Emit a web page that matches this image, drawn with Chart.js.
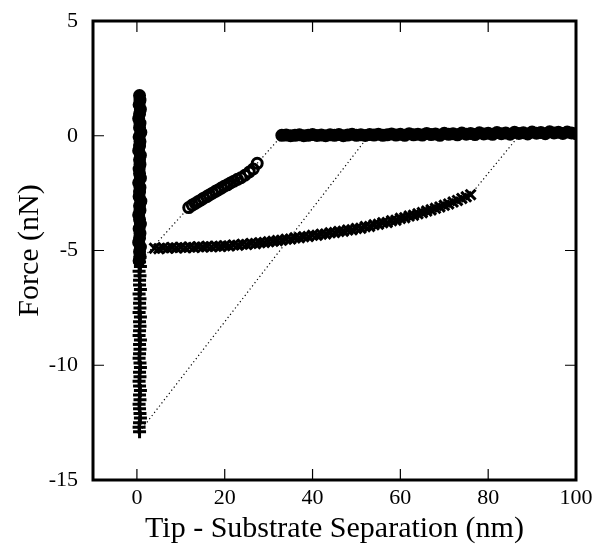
<!DOCTYPE html>
<html>
<head>
<meta charset="utf-8">
<script src="https://cdn.jsdelivr.net/npm/chart.js@4.4.1/dist/chart.umd.min.js"></script>
<style>
  html, body { margin: 0; padding: 0; background: #fff; }
  canvas { display: block; }
</style>
</head>
<body>
<canvas id="force-chart" width="594" height="548"></canvas>
<script>
// axis ticks
const xTicks = [0, 20, 40, 60, 80, 100];
const yTicks = [-15, -10, -5, 0, 5];

// approach, tip far from surface (circles at zero force)
const approachX = [33, 34, 35, 36, 37, 38, 39, 40, 41, 42, 43, 44, 45, 46, 47, 48, 49, 50,
    51, 52, 53, 54, 55, 56, 57, 58, 59, 60, 61, 62, 63, 64, 65, 66, 67, 68, 69, 70,
    71, 72, 73, 74, 75, 76, 77, 78, 79, 80, 81, 82, 83, 84, 85, 86, 87, 88, 89, 90,
    91, 92, 93, 94, 95, 96, 97, 98, 99, 100];
const approachY = [0.02, 0.03, 0.0, 0.02, 0.04, 0.0, 0.02, 0.05, 0.01, 0.03, 0.0, 0.04, 0.02, 0.05, 0.0, 0.03, 0.06, 0.02,
    0.04, 0.01, 0.05, 0.03, 0.07, 0.02, 0.04, 0.08, 0.03, 0.06, 0.02, 0.09, 0.04, 0.07, 0.03, 0.1, 0.05, 0.08, 0.02, 0.11,
    0.06, 0.09, 0.04, 0.12, 0.07, 0.1, 0.05, 0.13, 0.08, 0.11, 0.06, 0.14, 0.09, 0.12, 0.07, 0.15, 0.1, 0.13, 0.08, 0.16,
    0.11, 0.14, 0.09, 0.17, 0.12, 0.15, 0.1, 0.16, 0.12, 0.09];

// jump-in section (circles)
const jumpX = [11.8, 12.6, 13.3, 14.0, 14.6, 15.2, 15.9, 16.5, 17.2, 17.9, 18.5, 19.2, 19.9, 20.6, 21.3, 22.1,
    22.9, 23.7, 24.6, 25.6, 26.5, 27.4];
const jumpY = [-3.13, -3.02, -2.95, -2.86, -2.8, -2.72, -2.65, -2.58, -2.5, -2.42, -2.36, -2.28, -2.2, -2.14, -2.06, -1.98,
    -1.9, -1.83, -1.72, -1.58, -1.45, -1.2];

// contact, approach (circles near zero separation)
const contactInX = [0.6, 0.7, 0.5, 0.8, 0.6, 0.4, 0.7, 0.6, 0.9, 0.5, 0.7, 0.6, 0.4, 0.8, 0.6, 0.7, 0.5, 0.6, 0.8,
    0.4, 0.7, 0.6, 0.5, 0.9, 0.6, 0.7, 0.4, 0.6, 0.8, 0.5, 0.7, 0.6, 0.4, 0.8, 0.6, 0.7, 0.5];
const contactInY = [1.75, 1.55, 1.35, 1.15, 0.95, 0.75, 0.55, 0.35, 0.15, -0.05, -0.25, -0.45, -0.65, -0.85, -1.05, -1.25,
    -1.45, -1.65, -1.85, -2.05, -2.25, -2.45, -2.65, -2.85, -3.05, -3.25, -3.45, -3.65, -3.85, -4.05, -4.25, -4.45,
    -4.65, -4.85, -5.05, -5.25, -5.45];

// contact, retract (crosses near zero separation)
const contactOutX = [0.7, 0.6, 0.8, 0.5, 0.7, 0.6, 0.6, 0.8, 0.5, 0.7, 0.6, 0.7, 0.5, 0.8, 0.6, 0.7, 0.6, 0.5, 0.8, 0.6,
    0.7, 0.6, 0.5, 0.7, 0.8, 0.6, 0.7, 0.5, 0.6, 0.8, 0.6, 0.7, 0.5, 0.6, 0.7, 0.8, 0.6, 0.5, 0.6];
const contactOutY = [-5.3, -5.5, -5.7, -5.9, -6.1, -6.3, -6.5, -6.7, -6.9, -7.1, -7.3, -7.5, -7.7, -7.9, -8.1, -8.3,
    -8.5, -8.7, -8.9, -9.1, -9.3, -9.5, -9.7, -9.9, -10.1, -10.3, -10.5, -10.7, -10.9, -11.1, -11.3, -11.5, -11.7,
    -11.9, -12.1, -12.3, -12.5, -12.7, -12.9];

// retract, adhesion curve (crosses)
const retractX = [4, 5, 6, 7, 8, 9, 10, 11, 12, 13, 14, 15, 16, 17, 18, 19, 20, 21, 22, 23, 24, 25, 26, 27, 28,
    29, 30, 31, 32, 33, 34, 35, 36, 37, 38, 39, 40, 41, 42, 43, 44, 45, 46, 47, 48, 49, 50, 51, 52, 53, 54,
    55, 56, 57, 58, 59, 60, 61, 62, 63, 64, 65, 66, 67, 68, 69, 70, 71, 72, 73, 74, 75, 76];
const retractY = [-4.9, -4.92, -4.88, -4.9, -4.87, -4.89, -4.86, -4.88, -4.85, -4.87, -4.84, -4.85, -4.82, -4.84, -4.81, -4.82,
    -4.79, -4.8, -4.76, -4.77, -4.73, -4.74, -4.69, -4.7, -4.66, -4.65, -4.62, -4.6, -4.57, -4.55, -4.51, -4.5, -4.45,
    -4.44, -4.4, -4.39, -4.34, -4.34, -4.29, -4.28, -4.23, -4.22, -4.17, -4.16, -4.11, -4.1, -4.04, -4.03, -3.96, -3.95,
    -3.88, -3.86, -3.79, -3.78, -3.7, -3.68, -3.6, -3.57, -3.5, -3.46, -3.4, -3.35, -3.28, -3.23, -3.16, -3.1, -3.03,
    -2.97, -2.89, -2.82, -2.73, -2.66, -2.57];

// dotted guide lines
const guideInLowX = [0.6, 11.8];
const guideInLowY = [-5.5, -3.13];
const guideInHighX = [27.4, 33];
const guideInHighY = [-1.2, 0];
const guideContactX = [0.6, 52.8];
const guideContactY = [-12.9, 0];
const guideOutX = [76, 87];
const guideOutY = [-2.57, 0];

const pts = (xs, ys) => xs.map((x, i) => ({ x, y: ys[i] }));

const serif = '"Liberation Serif", "DejaVu Serif", serif';

const markers = (data, style, radius, width, fill) => ({
    data,
    showLine: false,
    pointStyle: style,
    pointRadius: radius,
    pointBorderWidth: width,
    pointBorderColor: '#000',
    pointBackgroundColor: fill || 'rgba(0,0,0,0)',
    borderColor: '#000',
    clip: 0
});

const dotted = (data) => ({
    data,
    showLine: true,
    pointRadius: 0,
    borderColor: '#000',
    borderWidth: 1.2,
    borderDash: [1.2, 2.8],
    clip: 0
});

// inward ticks and the frame
const frameTicks = {
    id: 'frameTicks',
    afterDatasetsDraw(chart) {
        const { ctx, chartArea: a, scales: { x, y } } = chart;
        ctx.save();
        ctx.strokeStyle = '#000';
        ctx.lineWidth = 1.2;
        ctx.beginPath();
        xTicks.forEach(v => {
            const px = x.getPixelForValue(v);
            ctx.moveTo(px, a.bottom); ctx.lineTo(px, a.bottom - 11);
            ctx.moveTo(px, a.top); ctx.lineTo(px, a.top + 11);
        });
        yTicks.forEach(v => {
            const py = y.getPixelForValue(v);
            ctx.moveTo(a.left, py); ctx.lineTo(a.left + 11, py);
            ctx.moveTo(a.right, py); ctx.lineTo(a.right - 11, py);
        });
        ctx.stroke();
        ctx.lineWidth = 3;
        ctx.strokeRect(a.left, a.top, a.width, a.height);
        ctx.restore();
    }
};

const config = {
    type: 'scatter',
    data: {
        datasets: [
            dotted(pts(guideInLowX, guideInLowY)),
            dotted(pts(guideInHighX, guideInHighY)),
            dotted(pts(guideContactX, guideContactY)),
            dotted(pts(guideOutX, guideOutY)),
            markers(pts(approachX, approachY), 'circle', 5.5, 2, '#000'),
            markers(pts(jumpX, jumpY), 'circle', 5, 3),
            markers(pts(contactInX, contactInY), 'circle', 5.5, 2, '#000'),
            markers(pts(contactOutX, contactOutY), 'cross', 6.5, 3),
            markers(pts(retractX, retractY), 'crossRot', 7, 3)
        ]
    },
    options: {
        responsive: false,
        animation: false,
        devicePixelRatio: 1,
        layout: { padding: { top: 21, right: 18, left: 0, bottom: 0 } },
        plugins: {
            legend: { display: false },
            tooltip: { enabled: false }
        },
        scales: {
            x: {
                type: 'linear',
                min: -10,
                max: 100,
                afterFit: (s) => { s.height = 68; },
                afterBuildTicks: (s) => { s.ticks = xTicks.map(v => ({ value: v })); },
                grid: { display: false },
                border: { display: false },
                ticks: { color: '#000', padding: -3, maxRotation: 0, font: { family: serif, size: 22 } },
                title: {
                    display: true,
                    text: 'Tip - Substrate Separation (nm)',
                    color: '#000',
                    font: { family: serif, size: 30 },
                    padding: { top: 0, bottom: 1 }
                }
            },
            y: {
                type: 'linear',
                min: -15,
                max: 5,
                afterFit: (s) => { s.width = 93; },
                afterBuildTicks: (s) => { s.ticks = yTicks.map(v => ({ value: v })); },
                grid: { display: false },
                border: { display: false },
                ticks: { color: '#000', padding: 7, font: { family: serif, size: 22 } },
                title: {
                    display: true,
                    text: 'Force (nN)',
                    color: '#000',
                    font: { family: serif, size: 30 },
                    padding: { top: 12, bottom: 0 }
                }
            }
        }
    },
    plugins: [frameTicks]
};

const forceChart = new Chart(document.getElementById('force-chart'), config);
</script>
</body>
</html>
